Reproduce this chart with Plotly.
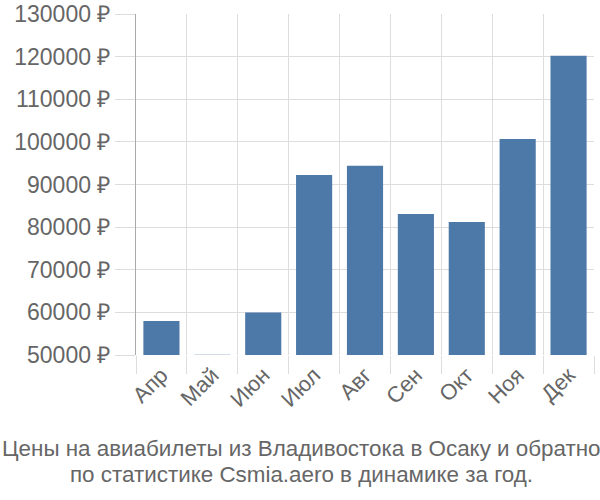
import plotly.graph_objects as go

months = ["Апр", "Май", "Июн", "Июл", "Авг", "Сен", "Окт", "Ноя", "Дек"]
prices = [58000, 50050, 60000, 92200, 94400, 83100, 81200, 100700, 120200]
yticks = [50000, 60000, 70000, 80000, 90000, 100000, 110000, 120000, 130000]
yticklabels = [f"{v} ₽" for v in yticks]
title_lines = ["Цены на авиабилеты из Владивостока в Осаку и обратно",
               "по статистике Csmia.aero в динамике за год."]

fig = go.Figure(go.Bar(x=months, y=prices, marker_color="#4d79a8",
                       marker_line_width=0, width=0.71))
fig.update_layout(
    width=600, height=500,
    margin=dict(l=136, r=6, t=14, b=145, autoexpand=False),
    plot_bgcolor="white", paper_bgcolor="white",
    font=dict(family="Liberation Sans, Arial, sans-serif", color="#666666"),
    showlegend=False,
)
fig.update_xaxes(
    tickson="boundaries", ticks="outside", ticklen=18, tickcolor="#dddddd",
    showgrid=True, gridcolor="#dddddd", gridwidth=1,
    tickangle=-45, tickfont=dict(size=22, color="#666666"),
    ticklabelstandoff=2,
    showline=False, zeroline=False, automargin=False,
)
fig.update_yaxes(
    range=[50000, 130000], tickvals=yticks, ticktext=yticklabels,
    ticks="outside", ticklen=20, tickcolor="#dddddd",
    showgrid=True, gridcolor="#dddddd", gridwidth=1,
    showline=True, linecolor="#aaaaaa", linewidth=1,
    tickfont=dict(size=23, color="#666666"), zeroline=False, automargin=False,
)
plot_h = 500 - 14 - 145
for line, center_y in zip(title_lines, [448, 474]):
    fig.add_annotation(text=line, xref="paper", yref="paper",
                       x=(301 - 136) / 458, xanchor="center",
                       y=-(center_y - 355) / plot_h, yanchor="middle",
                       showarrow=False, font=dict(size=22.4, color="#666666"))
fig.write_html("out.html")
